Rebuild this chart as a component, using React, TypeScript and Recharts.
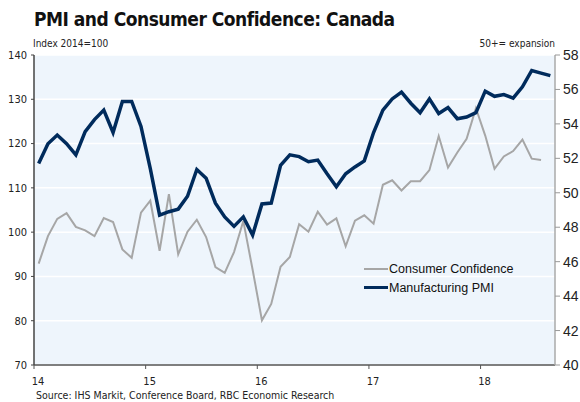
import { LineChart, Line, XAxis, YAxis, CartesianGrid, Legend } from "recharts";

// monthly, Jan 2014 onward
const consumerConfidence = [
  92.9, 99.1, 103.0, 104.3, 101.2, 100.4, 99.1, 103.2, 102.3, 96.1, 94.2, 104.4,
  107.1, 95.8, 108.6, 95.0, 100.1, 102.8, 98.9, 92.1, 90.8, 95.5, 102.5, 91.5,
  80.1, 83.8, 92.2, 94.4, 101.8, 100.1, 104.6, 101.7, 103.1, 96.8, 102.6, 103.8,
  101.9, 110.7, 111.7, 109.4, 111.5, 111.5, 114.0, 121.7, 114.6, 118.0, 121.1, 128.0,
  121.8, 114.3, 117.1, 118.3, 120.9, 116.6, 116.3,
];

const manufacturingPmi = [
  51.7, 52.85, 53.35, 52.85, 52.2, 53.55, 54.25, 54.8, 53.5, 55.3, 55.3, 53.85,
  51.4, 48.7, 48.9, 49.05, 49.8, 51.35, 50.85, 49.4, 48.6, 48.05, 48.6, 47.55,
  49.35, 49.4, 51.6, 52.2, 52.1, 51.8, 51.9, 51.1, 50.35, 51.1, 51.5, 51.85,
  53.5, 54.8, 55.45, 55.85, 55.2, 54.65, 55.45, 54.6, 54.95, 54.3, 54.4, 54.65,
  55.9, 55.6, 55.7, 55.5, 56.15, 57.1, 56.95, 56.8,
];

const yearLabels = ["14", "15", "16", "17", "18"];
const leftTicks = [70, 80, 90, 100, 110, 120, 130, 140];
const rightTicks = [40, 42, 44, 46, 48, 50, 52, 54, 56, 58];

const NAVY = "#002B5C";
const GREY = "#A6A6A6";
const SMALL = "'DejaVu Sans Condensed', 'DejaVu Sans', sans-serif";

// points sit mid-month, year ticks at January
const data = manufacturingPmi.map((v, i) => ({
  month: i + 0.5,
  pmi: v,
  cc: consumerConfidence[i],
}));

const legendItems = [
  { label: "Consumer Confidence", color: GREY, width: 2 },
  { label: "Manufacturing PMI", color: NAVY, width: 3.5 },
];

function LegendBox() {
  return (
    <div style={{ fontFamily: "'Liberation Sans', Arial, sans-serif", fontSize: 12.5, color: "#111" }}>
      {legendItems.map((it) => (
        <div key={it.label} style={{ display: "flex", alignItems: "center", height: 19 }}>
          <span style={{ display: "inline-block", width: 24, height: it.width, background: it.color }} />
          <span style={{ marginLeft: 1 }}>{it.label}</span>
        </div>
      ))}
    </div>
  );
}

export default function App() {
  return (
    <div style={{ position: "absolute", left: 0, top: 0, width: 580, height: 402, background: "#fff" }}>
      <div
        style={{
          position: "absolute",
          left: 34,
          top: 8,
          fontFamily: SMALL,
          fontWeight: "bold",
          fontSize: 19,
          letterSpacing: -0.5,
          color: "#111",
          whiteSpace: "nowrap",
        }}
      >
        PMI and Consumer Confidence: Canada
      </div>
      <div style={{ position: "absolute", left: 33, top: 38, fontFamily: SMALL, fontSize: 10, color: "#222" }}>
        Index 2014=100
      </div>
      <div style={{ position: "absolute", right: 25, top: 38, fontFamily: SMALL, fontSize: 10, color: "#222" }}>
        50+= expansion
      </div>
      <LineChart width={580} height={402} data={data} margin={{ top: 55, right: 0, bottom: 0, left: 0 }}>
        <CartesianGrid
          yAxisId="left"
          vertical={false}
          horizontal
          stroke="#ffffff"
          strokeWidth={1.5}
          fill="#EEF5FC"
        />
        <XAxis
          dataKey="month"
          type="number"
          domain={[0, 56]}
          ticks={yearLabels.map((_, i) => i * 12)}
          tickFormatter={(v: number) => yearLabels[v / 12]}
          height={37}
          tickSize={4}
          tickMargin={8}
          axisLine={{ stroke: "#555", strokeWidth: 1.5 }}
          tickLine={{ stroke: "#555" }}
          tick={{ fill: "#222", fontSize: 11, fontFamily: SMALL, dx: 4 }}
        />
        <YAxis
          yAxisId="left"
          orientation="left"
          domain={[70, 140]}
          ticks={leftTicks}
          width={34}
          tickSize={3}
          tickMargin={4}
          axisLine={{ stroke: "#444", strokeWidth: 1.5 }}
          tickLine={{ stroke: "#444" }}
          tick={{ fill: "#222", fontSize: 11, fontFamily: SMALL }}
        />
        <YAxis
          yAxisId="right"
          orientation="right"
          domain={[40, 58]}
          ticks={rightTicks}
          width={25}
          tickSize={5}
          tickMargin={3}
          axisLine={{ stroke: "#AAAAAA", strokeWidth: 1.5 }}
          tickLine={{ stroke: "#999" }}
          tick={{ fill: "#222", fontSize: 14, fontFamily: "'Liberation Sans', Arial, sans-serif" }}
        />
        <Legend
          layout="vertical"
          align="center"
          verticalAlign="middle"
          wrapperStyle={{ left: 364, top: 259, width: 180 }}
          content={() => <LegendBox />}
        />
        <Line
          yAxisId="left"
          dataKey="cc"
          stroke={GREY}
          strokeWidth={2}
          dot={false}
          isAnimationActive={false}
        />
        <Line
          yAxisId="right"
          dataKey="pmi"
          stroke={NAVY}
          strokeWidth={3.5}
          dot={false}
          isAnimationActive={false}
        />
      </LineChart>
      <div style={{ position: "absolute", left: 36, top: 389, fontFamily: SMALL, fontSize: 10.5, color: "#222", whiteSpace: "nowrap" }}>
        Source: IHS Markit, Conference Board, RBC Economic Research
      </div>
    </div>
  );
}
